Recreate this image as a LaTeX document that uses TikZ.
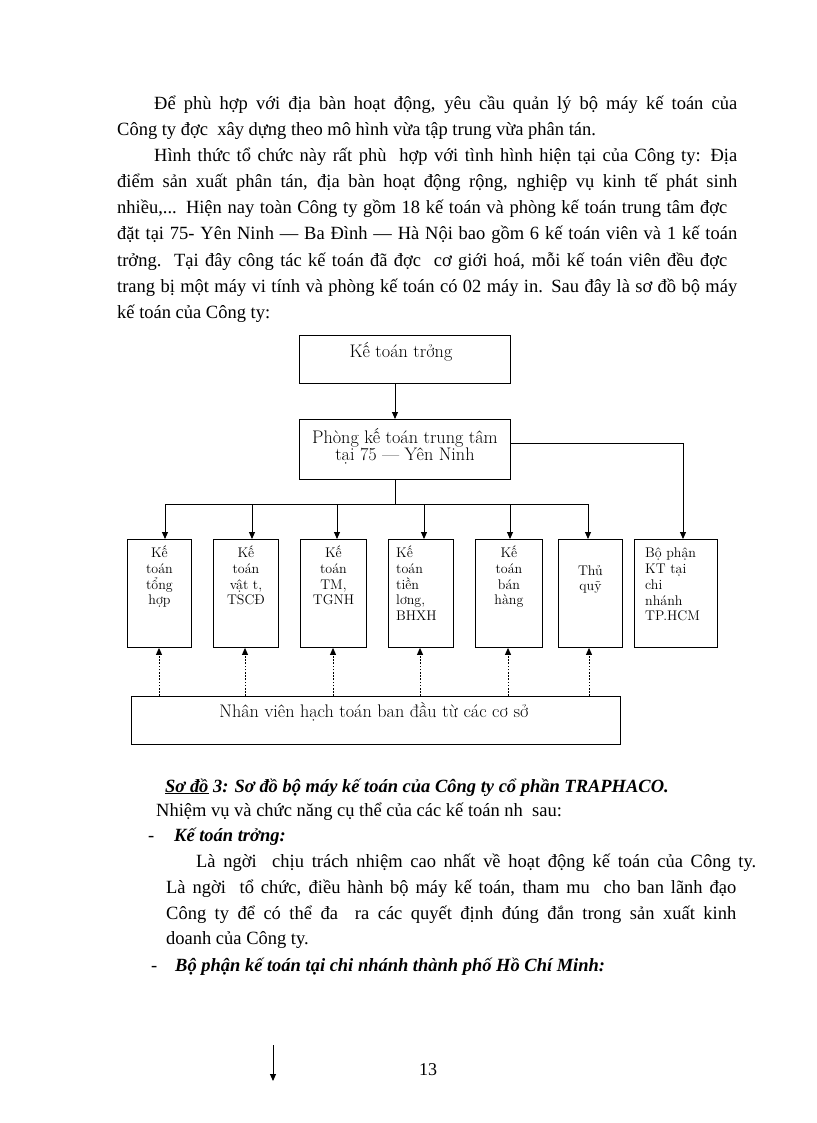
\documentclass[tikz,border=0pt]{standalone}
\usepackage{fontspec}
\newfontfamily\bodyfont{Liberation Serif}[FakeStretch=0.99]
\newfontfamily\numfont{Liberation Serif}
\usetikzlibrary{arrows.meta,calc}
\begin{document}
\begin{tikzpicture}[x=1pt,y=-1pt,
  box/.style={draw, line width=0.9pt, inner sep=0pt, anchor=north west},
  conn/.style={line width=0.9pt},
  arr/.style={conn, -{Triangle[length=7pt,width=6pt]}},
  darr/.style={arr, dash pattern=on 1.6pt off 1.6pt},
  big/.style={font=\fontsize{18.2}{17}\selectfont, inner sep=0pt},
  small/.style={font=\fontsize{14}{15.7}\selectfont, inner sep=0pt, align=center, anchor=north},
  smallL/.style={small, align=left, anchor=north west},
  body/.style={font=\bodyfont\fontsize{18.67}{26}\selectfont, inner sep=0pt, anchor=base west},
  bodybi/.style={body, font=\bodyfont\fontsize{18.67}{26}\selectfont\bfseries\itshape},
]
\fill[white] (0,0) rectangle (816,1123);
\useasboundingbox (0,0) rectangle (816,1123);

% ---------- text above ----------
\node[body] (l1) at (154,110) {\makebox[583pt][s]{Để phù hợp với địa bàn hoạt động, yêu cầu quản lý bộ máy kế toán của}};
\node[body] (l2) at (117,136) {Công ty đợc\ \ xây dựng theo mô hình vừa tập trung vừa phân tán.};
\node[body] (l3) at (154,162) {\makebox[583pt][s]{Hình thức tổ chức này rất phù\ \ hợp với tình hình hiện tại của Công ty: Địa}};
\node[body] (l4) at (117,188) {\makebox[620pt][s]{điểm sản xuất phân tán, địa bàn hoạt động rộng, nghiệp vụ kinh tế phát sinh}};
\node[body] (l5) at (117,214) {\makebox[610pt][s]{nhiều,... Hiện nay toàn Công ty gồm 18 kế toán và phòng kế toán trung tâm đợc}};
\node[body] (l6) at (117,240) {\makebox[620pt][s]{đặt tại 75- Yên Ninh — Ba Đình — Hà Nội bao gồm 6 kế toán viên và 1 kế toán}};
\node[body] (l7) at (117,266) {\makebox[610pt][s]{trởng.\ \ Tại đây công tác kế toán đã đợc\ \ cơ giới hoá, mỗi kế toán viên đều đợc}};
\node[body] (l8) at (117,292) {\makebox[620pt][s]{trang bị một máy vi tính và phòng kế toán có 02 máy in. Sau đây là sơ đồ bộ máy}};
\node[body] (l9) at (117,318) {kế toán của Công ty:};

% ---------- diagram ----------
\node[box, minimum width=211pt, minimum height=48pt] (ktt) at (299,335) {};
\node[big, anchor=base] (kttT) at ($(ktt.north)+(-4,22)$) {Kế toán trởng};
\node[box, minimum width=211pt, minimum height=60pt] (ptt) at (299,419) {};
\node[big, anchor=north, align=center] (pttT) at ($(ptt.north)+(0,9)$) {Phòng kế toán trung tâm\\tại 75 — Yên Ninh};

\node[box, minimum width=64pt, minimum height=108pt] (b1) at (127,539) {};
\node[box, minimum width=65pt, minimum height=108pt] (b2) at (213,539) {};
\node[box, minimum width=66pt, minimum height=108pt] (b3) at (300,539) {};
\node[box, minimum width=65pt, minimum height=108pt] (b4) at (388,539) {};
\node[box, minimum width=67pt, minimum height=108pt] (b5) at (475,539) {};
\node[box, minimum width=64pt, minimum height=108pt] (b6) at (558,539) {};
\node[box, minimum width=83pt, minimum height=108pt] (b7) at (634,539) {};

\node[small] (b1T) at ($(b1.north)+(0,7)$) {Kế\\toán\\tổng\\hợp};
\node[small] (b2T) at ($(b2.north)+(0,7)$) {Kế\\toán\\vật t,\\TSCĐ};
\node[small] (b3T) at ($(b3.north)+(0,7)$) {Kế\\toán\\TM,\\TGNH};
\node[smallL] (b4T) at ($(b4.north west)+(8,7)$) {Kế\\toán\\tiền\\lơng,\\BHXH};
\node[small] (b5T) at ($(b5.north)+(0,7)$) {Kế\\toán\\bán\\hàng};
\node[small] (b6T) at ($(b6.north)+(0,26)$) {Thủ\\quỹ};
\node[smallL] (b7T) at ($(b7.north west)+(11,9)$) {Bộ phận\\KT tại\\chi\\nhánh\\TP.HCM};

\node[box, minimum width=489pt, minimum height=48pt] (nv) at (131,696) {};
\node[big, anchor=base] (nvT) at ($(nv.north)+(-2,21)$) {Nhân viên hạch toán ban đầu từ các cơ sở};

% connectors
\coordinate (kx) at (395,504);
\coordinate (busL) at (165,504);
\coordinate (busR) at (588,504);
\coordinate (pr) at (510,443);
\coordinate (hx) at (683,443);
\draw[arr] (kx |- ktt.south) -- (kx |- ptt.north);
\draw[conn] (kx |- ptt.south) -- (kx);
\draw[conn] (busL) -- (busR);
\coordinate (a2) at (252,504);
\coordinate (a3) at (337,504);
\coordinate (a4) at (424,504);
\coordinate (a5) at (510,504);
\draw[arr] (busL) -- (busL |- b1.north);
\draw[arr] (a2) -- (a2 |- b2.north);
\draw[arr] (a3) -- (a3 |- b3.north);
\draw[arr] (a4) -- (a4 |- b4.north);
\draw[arr] (a5) -- (a5 |- b5.north);
\draw[arr] (busR) -- (busR |- b6.north);
\draw[arr] (pr) -- (hx) -- (hx |- b7.north);

\coordinate (d1) at (159,696);
\coordinate (d2) at (245,696);
\coordinate (d3) at (333,696);
\coordinate (d4) at (420,696);
\coordinate (d5) at (508,696);
\coordinate (d6) at (589,696);
\draw[darr] (d1 |- nv.north) -- (d1 |- b1.south);
\draw[darr] (d2 |- nv.north) -- (d2 |- b2.south);
\draw[darr] (d3 |- nv.north) -- (d3 |- b3.south);
\draw[darr] (d4 |- nv.north) -- (d4 |- b4.south);
\draw[darr] (d5 |- nv.north) -- (d5 |- b5.south);
\draw[darr] (d6 |- nv.north) -- (d6 |- b6.south);

% ---------- text below ----------
\node[bodybi] (cap) at (165,792) {\underline{Sơ đồ} 3: Sơ đồ bộ máy kế toán của Công ty cổ phần TRAPHACO.};
\node[body] (m1) at (156,816) {Nhiệm vụ và chức năng cụ thể của các kế toán nh\ \ sau:};
\node[body] (dash1) at (148,841) {-};
\node[bodybi] (h1) at (174,841) {Kế toán trởng:};
\node[body] (m2) at (196,867) {\makebox[560pt][s]{Là ngời\ \ chịu trách nhiệm cao nhất về hoạt động kế toán của Công ty.}};
\node[body] (m3) at (166,893) {\makebox[570pt][s]{Là ngời\ \ tổ chức, điều hành bộ máy kế toán, tham mu\ \ cho ban lãnh đạo}};
\node[body] (m4) at (166,919) {\makebox[570pt][s]{Công ty để có thể đa\ \ ra các quyết định đúng đắn trong sản xuất kinh}};
\node[body] (m5) at (166,944) {doanh của Công ty.};
\node[body] (dash2) at (151,971) {-};
\node[bodybi] (h2) at (175,971) {Bộ phận kế toán tại chi nhánh thành phố Hồ Chí Minh:};

% ---------- page foot ----------
\coordinate (s1) at (273,1045);
\coordinate (s2) at (273,1081);
\draw[arr] (s1) -- (s2);
\node[font=\numfont\fontsize{18}{18}\selectfont, inner sep=0pt, anchor=base] (pg) at (428,1075) {13};
\end{tikzpicture}
\end{document}
